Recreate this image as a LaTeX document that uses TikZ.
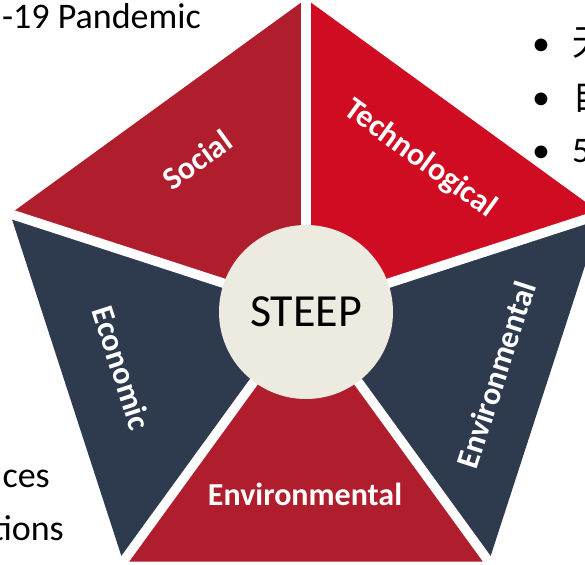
\documentclass[tikz,border=0pt]{standalone}
\usepackage{fontspec}
\setmainfont{Carlito}
\newfontfamily\cjkfont{Noto Sans CJK SC}
\usetikzlibrary{calc}
\definecolor{redA}{HTML}{B01E2D}
\definecolor{redB}{HTML}{D00C22}
\definecolor{navy}{HTML}{2E3A4E}
\definecolor{beige}{HTML}{EDEAE0}
\begin{document}
\begin{tikzpicture}[x=1pt,y=1pt,
  seglabel/.style={text=white, inner sep=0pt, font=\fontsize{32}{38}\selectfont\bfseries},
  sidetext/.style={font=\fontsize{36}{43}\selectfont, text=black, inner sep=0pt},
  gap/.style={white, line width=9.5pt}]
\useasboundingbox (0,0) rectangle (585,564);
\fill[white] (0,0) rectangle (585,564);
\coordinate (C) at (306,254);
\coordinate (V1) at ($(C)+(90:311)$);
\coordinate (V2) at ($(C)+(162:311)$);
\coordinate (V3) at ($(C)+(234:311)$);
\coordinate (V4) at ($(C)+(306:311)$);
\coordinate (V5) at ($(C)+(18:311)$);
\fill[redA] (C) -- (V1) -- (V2) -- cycle;
\fill[navy] (C) -- (V2) -- (V3) -- cycle;
\fill[redA] (C) -- (V3) -- (V4) -- cycle;
\fill[navy] (C) -- (V4) -- (V5) -- cycle;
\fill[redB] (C) -- (V5) -- (V1) -- cycle;
\foreach \i in {1,...,5} \draw[gap] (C) -- ($(C)!1.08!(V\i)$);
\node[circle, fill=beige, minimum size=174pt, inner sep=0pt, font=\fontsize{46}{55}\selectfont] (steep) at ($(C)+(0,-2)$) {STEEP};
\node[seglabel, rotate=36] (social) at (197,404) {Social};
\node[seglabel, rotate=-36] (tech) at (420,405) {Technological};
\node[seglabel, rotate=-72] (econ) at (122,196) {Economic};
\node[seglabel, rotate=72] (envR) at (496,189) {Environmental};
\node[seglabel] (envB) at (305,70) {Environmental};
\node[sidetext, anchor=base east] (pand) at (201,535) {-19 Pandemic};
\node[sidetext, anchor=base east] (ces) at (50,77) {ces};
\node[sidetext, anchor=base east] (tions) at (64,24) {tions};
\node[sidetext, anchor=base] (b1) at (541,508) {•};
\node[sidetext, anchor=base] (b2) at (541,454.5) {•};
\node[sidetext, anchor=base] (b3) at (541,401) {•};
\node[sidetext, anchor=base west] (t1) at (572,508) {\cjkfont 无};
\node[sidetext, anchor=base west] (t2) at (572,454.5) {\cjkfont 自};
\node[sidetext, anchor=base west] (t3) at (572,401) {5};
\end{tikzpicture}
\end{document}
